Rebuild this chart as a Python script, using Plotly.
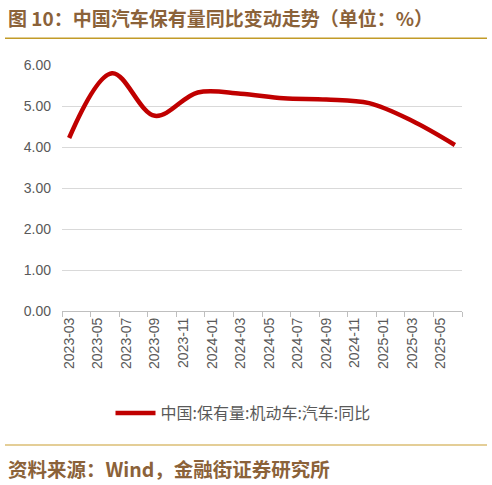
import plotly.graph_objects as go

# ---- data ----
months = [f"{y}-{m:02d}" for y in (2023, 2024, 2025) for m in range(1, 13)]
months = months[months.index("2023-03"):months.index("2025-06") + 1]
obs_months = ["2023-03", "2023-06", "2023-09", "2023-12", "2024-03",
              "2024-06", "2024-09", "2024-12", "2025-03", "2025-06"]
yoy_values = [4.22, 5.80, 4.76, 5.33, 5.30, 5.19, 5.16, 5.07, 4.64, 4.05]
series_name = "中国:保有量:机动车:汽车:同比"
y_ticks = [0, 1, 2, 3, 4, 5, 6]

title_text = "图 10：中国汽车保有量同比变动走势（单位：%）"
source_text = "资料来源：Wind，金融街证券研究所"

W, H = 492, 485
L, R, T, B = 62, 30, 65, 174
pw, ph = W - L - R, H - T - B


def px_x(x):
    return (x - L) / pw


def px_y(y):
    return (H - B - y) / ph


fig = go.Figure()
fig.add_trace(go.Scatter(
    x=obs_months, y=yoy_values, mode="lines", name=series_name,
    line=dict(color="#C00000", width=4.5, shape="spline", smoothing=1.0),
))

brown = "#8B6239"
fig.update_layout(
    width=W, height=H,
    margin=dict(l=L, r=R, t=T, b=B),
    paper_bgcolor="white", plot_bgcolor="white",
    showlegend=True,
    legend=dict(orientation="h", x=px_x(243), xanchor="center",
                y=px_y(413), yanchor="middle",
                font=dict(family="Noto Sans CJK SC", size=16, color="#595959"),
                itemwidth=40, bgcolor="rgba(0,0,0,0)"),
    xaxis=dict(type="category", categoryorder="array", categoryarray=months,
               range=[-0.5, len(months) - 0.5], tickmode="linear", tick0=0, dtick=2,
               tickson="boundaries", ticks="outside", ticklen=5, tickcolor="#BFBFBF",
               showgrid=False, showline=True, linecolor="#BFBFBF", linewidth=1,
               tickangle=-90,
               tickfont=dict(family="Liberation Sans", size=14, color="#595959")),
    yaxis=dict(range=[0, 6], tickvals=y_ticks, tickformat=".2f",
               showgrid=True, gridcolor="#D9D9D9", gridwidth=1,
               zeroline=False, showline=False, ticks="",
               ticklabelstandoff=10,
               tickfont=dict(family="Liberation Sans", size=14, color="#595959")),
    annotations=[
        dict(text=f"<b>{title_text}</b>", xref="paper", yref="paper",
             x=px_x(6), y=px_y(17), xanchor="left", yanchor="middle", showarrow=False,
             font=dict(family="Noto Sans CJK SC", size=19, color=brown)),
        dict(text=f"<b>{source_text}</b>", xref="paper", yref="paper",
             x=px_x(6), y=px_y(468), xanchor="left", yanchor="middle", showarrow=False,
             font=dict(family="Noto Sans CJK SC", size=19.5, color=brown)),
    ],
    shapes=[
        dict(type="line", xref="paper", yref="paper", x0=px_x(5), x1=px_x(487),
             y0=px_y(38.3), y1=px_y(38.3), line=dict(color="#C29B28", width=1.5)),
        dict(type="line", xref="paper", yref="paper", x0=px_x(5), x1=px_x(487),
             y0=px_y(445), y1=px_y(445), line=dict(color="#DBBE74", width=1.5)),
    ],
)

fig.write_html("out.html", config={"displayModeBar": False},
               post_script="document.body.style.margin='0px';document.body.style.overflow='hidden';")
